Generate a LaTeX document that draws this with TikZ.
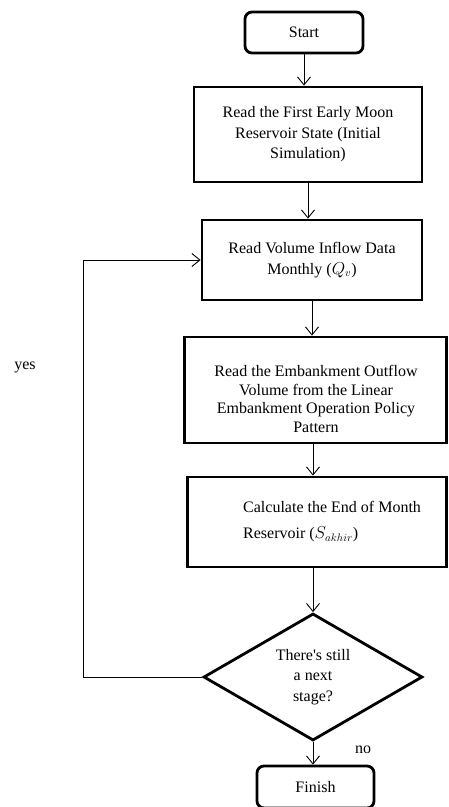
\documentclass[tikz,border=0pt]{standalone}
\usepackage{fontspec}
\setmainfont{Liberation Serif}
\usepackage{amsmath}
\usetikzlibrary{arrows.meta,shapes.geometric}

\begin{document}
\begin{tikzpicture}[x=1pt,y=-1pt,
    box/.style={draw, line width=2.8pt, inner sep=0pt, align=center, font=\fontsize{16}{20.5}\selectfont},
    term/.style={box, rounded corners=7pt},
    test/.style={box, diamond, aspect=1.7},
    flow/.style={line width=0.9pt, -{Straight Barb[length=8pt,width=13pt]}},
    lbl/.style={font=\fontsize{16}{20}\selectfont, inner sep=0pt}]
    \useasboundingbox (0,0) rectangle (449,807);
    \node[term, minimum width=118, minimum height=41] (S) at (304,32.5) {Start};
    \node[box, minimum width=228, minimum height=95] (R1) at (308,134.5) {Read the First Early Moon\\Reservoir State (Initial\\Simulation)};
    \node[box, minimum width=220, minimum height=80] (R2) at (312,260) {Read Volume Inflow Data\\Monthly ($Q_v$)};
    \node[box, minimum width=262, minimum height=106] (R3) at (315.5,390) {};
    \node[lbl, align=center, font=\fontsize{16}{18.5}\selectfont] (R3t) at (316,399) {Read the Embankment Outflow\\Volume from the Linear\\Embankment Operation Policy\\Pattern};
    \node[box, minimum width=259, minimum height=90] (C) at (317,522) {};
    \node[lbl, align=left, anchor=west, font=\fontsize{16}{26}\selectfont] (Ct) at (243,522) {Calculate the End of Month\\Reservoir ($S_{akhir}$)};
    \node[test, minimum width=219, minimum height=127] (D) at (313,677) {There\textquotesingle s still\\a next\\stage?};
    \node[term, minimum width=117, minimum height=42] (F) at (315.5,787) {Finish};
    \coordinate (back) at (83,677);
    \node[lbl] (yes) at (25,367) {yes};
    \node[lbl] (no) at (363,750) {no};
    % main flow
    \draw[flow] (S.south) -- (S.south |- R1.north);
    \draw[flow] (R1.south) -- (R1.south |- R2.north);
    \draw[flow] (R2.south) -- (R2.south |- R3.north);
    \draw[flow] (D.north |- R3.south) -- (D.north |- C.north);
    \draw[flow] (D.north |- C.south) -- (D.north);
    \draw[flow] (D.south) -- (D.south |- F.north);
    % loop back
    \draw[flow] (D.west) -- (back) |- (R2.west);
\end{tikzpicture}
\end{document}
